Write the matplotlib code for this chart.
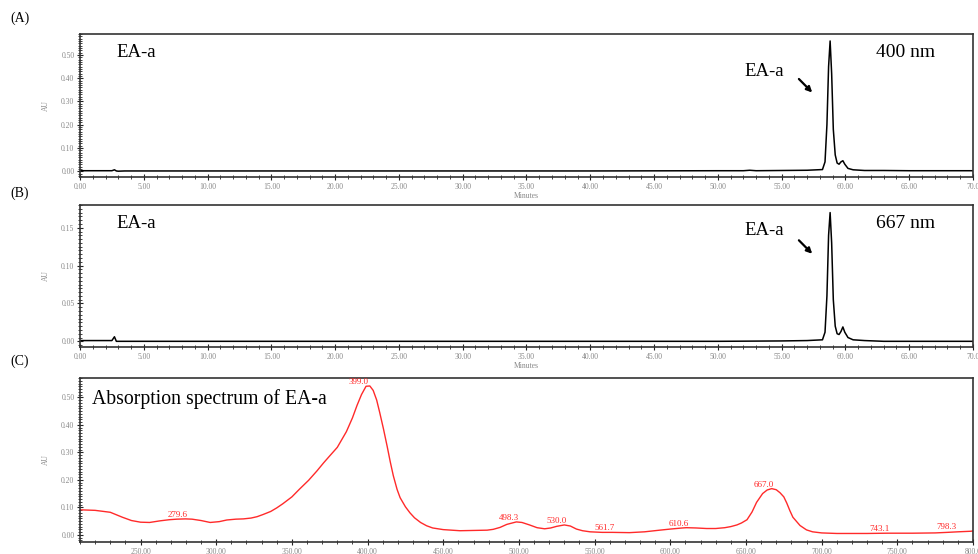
import matplotlib
matplotlib.use("Agg")
import matplotlib.pyplot as plt
from matplotlib.ticker import MultipleLocator, FuncFormatter

plt.rcParams['font.family'] = ['Liberation Serif', 'DejaVu Serif']

# ---- Chromatogram (A), 400 nm ----
time_a = [0.0, 2.5, 2.7, 2.85, 3.0, 3.5, 10, 20, 30, 40, 50, 52.0, 52.5, 53.0, 55, 57, 58.2, 58.4, 58.55,
          58.68, 58.8, 58.92, 59.05, 59.2, 59.35, 59.5, 59.65, 59.8, 59.95, 60.2, 60.6, 61.5, 63, 65, 70]
au_a = [0.002, 0.002, 0.006, 0.001, 0.0, 0.001, 0.001, 0.001, 0.001, 0.001, 0.002, 0.002, 0.004, 0.002,
        0.003, 0.004, 0.007, 0.04, 0.2, 0.45, 0.56, 0.42, 0.18, 0.07, 0.035, 0.03, 0.04, 0.045, 0.03,
        0.012, 0.006, 0.003, 0.003, 0.002, 0.002]

# ---- Chromatogram (B), 667 nm ----
time_b = [0.0, 2.5, 2.7, 2.85, 3.0, 3.5, 10, 20, 30, 40, 50, 55, 57, 58.2, 58.4, 58.55,
          58.68, 58.8, 58.92, 59.05, 59.2, 59.35, 59.5, 59.65, 59.8, 59.95, 60.2, 60.6, 61.5, 63, 65, 70]
au_b = [0.001, 0.001, 0.006, 0.0, 0.0, 0.0, 0.0, 0.0, 0.0, 0.0, 0.0, 0.0005, 0.001, 0.002, 0.012,
        0.06, 0.14, 0.17, 0.13, 0.055, 0.02, 0.01, 0.009, 0.013, 0.019, 0.012, 0.005, 0.002, 0.001,
        0.0, 0.0, 0.0]

# ---- Absorption spectrum (C) ----
wavelength = [210, 220, 230, 238, 244, 250, 256, 263, 269, 274, 279.6, 284, 290, 296, 302, 307, 313,
              318, 323, 327, 331, 336, 340, 344, 350, 355, 361, 366.5, 371, 375, 380, 386, 390, 393,
              396, 399.0, 401.5, 403.7, 406, 408, 410.5, 413, 415, 417, 419.5, 421.5, 425, 428, 431,
              435, 439, 443, 450, 461, 470, 479, 483, 487.5, 492, 498.3, 502, 507, 512, 517, 521, 525,
              530.0, 534, 538, 542, 547, 555, 561.7, 573, 583, 593, 600, 608, 610.6, 617, 624, 630,
              636, 640, 644, 647, 650.7, 654, 657, 661, 664, 667.0, 670, 672.5, 675, 677, 679, 681,
              685.7, 690, 694, 700, 710, 717, 730, 743.1, 760, 775, 783, 790, 798.3, 800]
absorb = [0.091, 0.089, 0.082, 0.064, 0.052, 0.046, 0.045, 0.051, 0.055, 0.057, 0.058, 0.057, 0.052,
          0.045, 0.048, 0.054, 0.057, 0.058, 0.061, 0.066, 0.074, 0.085, 0.098, 0.113, 0.138, 0.166,
          0.198, 0.232, 0.262, 0.287, 0.318, 0.375, 0.425, 0.47, 0.51, 0.540, 0.541, 0.525, 0.49, 0.445,
          0.385, 0.32, 0.265, 0.215, 0.165, 0.135, 0.102, 0.08, 0.062, 0.045, 0.033, 0.025, 0.019,
          0.015, 0.016, 0.017, 0.02, 0.027, 0.038, 0.047, 0.045, 0.036, 0.026, 0.022, 0.025, 0.031,
          0.036, 0.032, 0.021, 0.015, 0.011, 0.009, 0.009, 0.008, 0.011, 0.017, 0.021, 0.025, 0.026,
          0.025, 0.023, 0.023, 0.026, 0.03, 0.036, 0.043, 0.055, 0.083, 0.118, 0.15, 0.163, 0.168,
          0.164, 0.153, 0.138, 0.115, 0.088, 0.064, 0.034, 0.018, 0.011, 0.007, 0.005, 0.005, 0.005,
          0.006, 0.006, 0.007, 0.009, 0.011, 0.013, 0.014]
peak_labels = ["279.6", "399.0", "498.3", "530.0", "561.7", "610.6", "667.0", "743.1", "798.3"]
peak_x = [279.6, 399.0, 498.3, 530.0, 561.7, 610.6, 667.0, 743.1, 798.3]
peak_y = [0.058, 0.540, 0.047, 0.036, 0.009, 0.026, 0.168, 0.006, 0.013]

fig = plt.figure(figsize=(9.79, 5.54), dpi=100)
W, H = 979, 554

def ax_at(l, t, r, b):
    return fig.add_axes([l / W, 1 - b / H, (r - l) / W, (b - t) / H])

axA = ax_at(80, 34, 973, 177)
axB = ax_at(80, 205, 973, 347)
axC = ax_at(80, 378, 973, 542)

tick_col = '#888888'
frame_col = '#333333'

def fmt_factory(last, last_label):
    def f(v, pos):
        if abs(v - last) < 1e-9:
            return last_label
        return '%.2f' % v
    return FuncFormatter(f)

def style(ax):
    for s in ax.spines.values():
        s.set_color(frame_col)
        s.set_linewidth(1.2)
    ax.tick_params(axis='both', which='major', labelsize=5.5, labelcolor=tick_col,
                   color='#222222', direction='inout', length=4, width=0.8, pad=2)
    ax.tick_params(axis='both', which='minor', color='#222222', direction='inout',
                   length=2.5, width=0.6)
    ax.yaxis.set_minor_locator(MultipleLocator(0.01))
    ax.yaxis.set_major_formatter(FuncFormatter(lambda v, p: '%.2f' % v))
    ax.set_ylabel('AU', fontsize=5.5, color=tick_col, labelpad=8)

# Panel A
axA.plot(time_a, au_a, color='black', lw=1.1)
axA.set_xlim(0, 70)
axA.set_ylim(-0.025, 0.59)
axA.xaxis.set_major_locator(MultipleLocator(5))
axA.xaxis.set_minor_locator(MultipleLocator(1))
axA.xaxis.set_major_formatter(fmt_factory(70, '70.0'))
axA.yaxis.set_major_locator(MultipleLocator(0.1))
style(axA)
axA.set_xlabel('Minutes', fontsize=5.5, color=tick_col, labelpad=1)
axA.text(0.041, 0.87, 'EA-a', transform=axA.transAxes, fontsize=13.5, va='center', ha='left')
axA.text(0.8915, 0.874, '400 nm', transform=axA.transAxes, fontsize=14, va='center', ha='left')
axA.annotate('', xy=(57.55, 0.33), xytext=(56.2, 0.405),
             arrowprops=dict(arrowstyle='-|>', color='black', lw=1.6, mutation_scale=8))
axA.text(55.2, 0.43, 'EA-a', fontsize=13.5, ha='right', va='center')

# Panel B
axB.plot(time_b, au_b, color='black', lw=1.1)
axB.set_xlim(0, 70)
axB.set_ylim(-0.0075, 0.18)
axB.xaxis.set_major_locator(MultipleLocator(5))
axB.xaxis.set_minor_locator(MultipleLocator(1))
axB.xaxis.set_major_formatter(fmt_factory(70, '70.0'))
axB.yaxis.set_major_locator(MultipleLocator(0.05))
style(axB)
axB.yaxis.set_minor_locator(MultipleLocator(0.005))
axB.set_xlabel('Minutes', fontsize=5.5, color=tick_col, labelpad=1)
axB.text(0.041, 0.87, 'EA-a', transform=axB.transAxes, fontsize=13.5, va='center', ha='left')
axB.text(0.8915, 0.87, '667 nm', transform=axB.transAxes, fontsize=14, va='center', ha='left')
axB.annotate('', xy=(57.55, 0.113), xytext=(56.2, 0.136),
             arrowprops=dict(arrowstyle='-|>', color='black', lw=1.6, mutation_scale=8))
axB.text(55.2, 0.146, 'EA-a', fontsize=13.5, ha='right', va='center')

# Panel C
axC.plot(wavelength, absorb, color='#ff2a2a', lw=1.0)
axC.set_xlim(210, 800)
axC.set_ylim(-0.026, 0.57)
axC.xaxis.set_major_locator(MultipleLocator(50))
axC.xaxis.set_minor_locator(MultipleLocator(10))
axC.xaxis.set_major_formatter(fmt_factory(800, '800.0'))
axC.yaxis.set_major_locator(MultipleLocator(0.1))
style(axC)
for lab, px, py in zip(peak_labels, peak_x, peak_y):
    dx = -17.5 if px > 790 else -5.5
    axC.annotate(lab, xy=(px, py), xytext=(dx, 2.8), textcoords='offset points',
                 ha='center', va='center', fontsize=6.5, color='#ff2a2a')
axC.text(0.013, 0.87, 'Absorption spectrum of EA-a', transform=axC.transAxes,
         fontsize=14.2, va='center', ha='left')

fig.text(10 / W, 1 - 18 / H, '(A)', fontsize=10, va='center', ha='left')
fig.text(10 / W, 1 - 193 / H, '(B)', fontsize=10, va='center', ha='left')
fig.text(10 / W, 1 - 361 / H, '(C)', fontsize=10, va='center', ha='left')

fig.savefig('out.png', dpi=100)
